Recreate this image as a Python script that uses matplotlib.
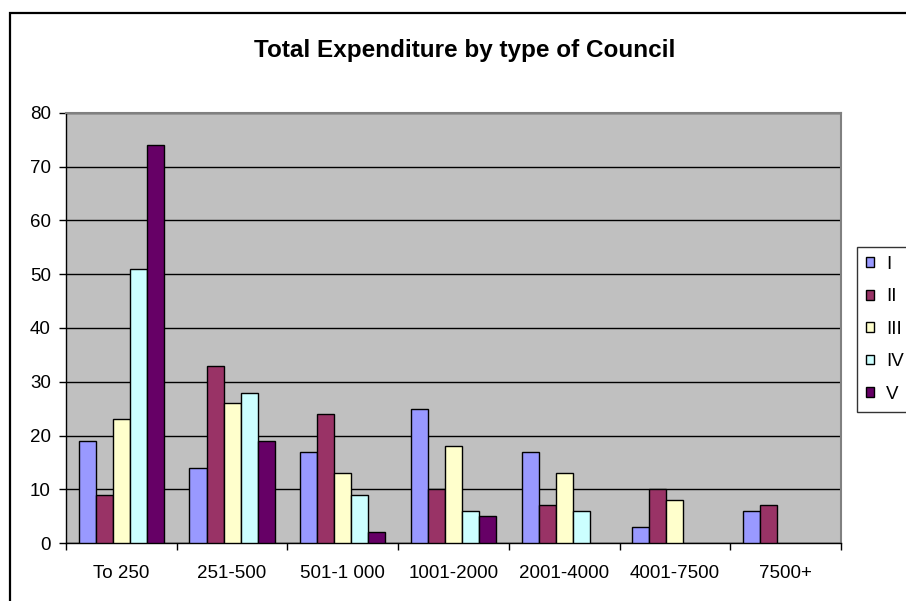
import numpy as np
import matplotlib
matplotlib.use("Agg")
import matplotlib.pyplot as plt
from matplotlib.patches import Rectangle

plt.rcParams['font.family'] = ['Liberation Sans', 'DejaVu Sans']

categories = ["To 250", "251-500", "501-1 000", "1001-2000", "2001-4000", "4001-7500", "7500+"]
series_names = ["I", "II", "III", "IV", "V"]
values_I = [19, 14, 17, 25, 17, 3, 6]
values_II = [9, 33, 24, 10, 7, 10, 7]
values_III = [23, 26, 13, 18, 13, 8, None]
values_IV = [51, 28, 9, 6, 6, None, None]
values_V = [74, 19, 2, 5, None, None, None]
series_values = [values_I, values_II, values_III, values_IV, values_V]
colors = ["#9999FF", "#993366", "#FFFFCC", "#CCFFFF", "#660066"]
y_ticks = list(range(0, 81, 10))

label_size = 13.5

fig = plt.figure(figsize=(9.06, 6.01), dpi=100)
fig.patch.set_facecolor("white")

# outer chart frame
fig.patches.append(Rectangle((10 / 906, -0.1), 1.2, 1.1 - 13 / 601,
                             transform=fig.transFigure, fill=False,
                             edgecolor="black", linewidth=1.6, zorder=0))

ax = fig.add_axes([66 / 906, 1 - 543 / 601, 775 / 906, 430 / 601])
ax.set_facecolor("#C0C0C0")

n = len(series_names)
width = 1 / (n + 1.5)
x = np.arange(len(categories))
handles = []
for j, (name, vals, col) in enumerate(zip(series_names, series_values, colors)):
    xs = [xi + (j - (n - 1) / 2) * width for xi, v in zip(x, vals) if v is not None]
    hs = [v for v in vals if v is not None]
    bars = ax.bar(xs, hs, width=width, color=col, edgecolor="black",
                  linewidth=1.0, label=name, zorder=3)
    handles.append(bars)

ax.set_xlim(-0.5, len(categories) - 0.5)
ax.set_ylim(0, 80)
ax.set_yticks(y_ticks)
ax.yaxis.grid(True, color="black", linewidth=1.0, zorder=1)
ax.set_axisbelow(True)
ax.tick_params(axis="y", direction="out", length=5, width=1,
               labelsize=label_size, pad=6)

ax.set_xticks(x)
ax.set_xticklabels(categories)
ax.set_xticks(np.arange(len(categories) + 1) - 0.5, minor=True)
ax.tick_params(axis="x", which="major", length=0, labelsize=label_size, pad=16)
ax.tick_params(axis="x", which="minor", direction="out", length=5, width=1)

for side in ("top", "right"):
    ax.spines[side].set_color("#808080")
    ax.spines[side].set_linewidth(1.5)
for side in ("left", "bottom"):
    ax.spines[side].set_color("black")
    ax.spines[side].set_linewidth(1.0)

fig.text(465 / 906, 1 - 50 / 601, "Total Expenditure by type of Council",
         ha="center", va="center", fontsize=17.5, fontweight="bold")

leg = fig.legend(handles=handles, labels=series_names, loc="upper left",
                 bbox_to_anchor=(857 / 906, 1 - 247 / 601),
                 frameon=True, fancybox=False, fontsize=label_size,
                 handlelength=0.43, handleheight=0.43, handletextpad=0.64,
                 labelspacing=0.82, borderpad=0.48, borderaxespad=0)
leg.get_frame().set_edgecolor("black")
leg.get_frame().set_linewidth(1.0)

fig.savefig("out.png", dpi=100)
